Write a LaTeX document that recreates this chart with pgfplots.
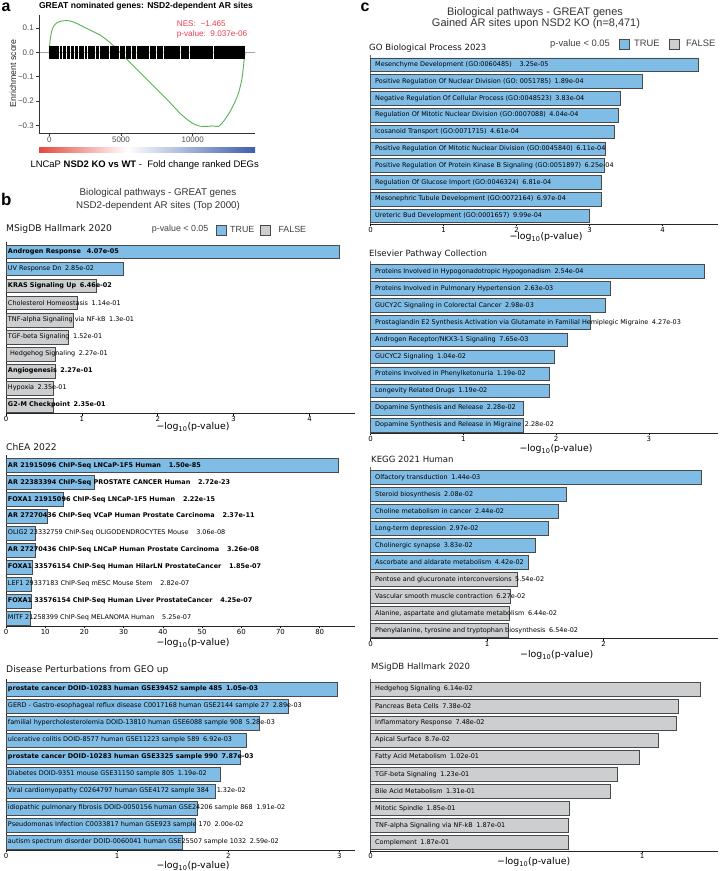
\documentclass[border=0pt]{standalone}
\usepackage{fontspec}
\setmainfont{Liberation Sans}
\newfontfamily\dv{DejaVu Sans}
\usepackage{pgfplots}
\pgfplotsset{compat=1.18}
\definecolor{tb}{HTML}{7FBDE6}
\definecolor{fg}{HTML}{CDCECF}
\definecolor{eg}{HTML}{4A4A4A}
\definecolor{cgreen}{HTML}{55B54F}
\definecolor{nesred}{HTML}{EE3F52}
\definecolor{cbred}{HTML}{E5493E}
\definecolor{cbblue}{HTML}{3D5DAE}
\definecolor{tgray}{HTML}{4D4D4D}
\newcommand{\fs}[1]{\fontsize{#1}{#1}\selectfont}
\newcommand{\g}{\hspace{0.55em}}
\newcommand{\G}{\hspace{1.2em}}
\pgfdeclarehorizontalshading{rwb}{100bp}{color(0bp)=(cbred); color(25bp)=(cbred); color(45.5bp)=(white); color(75bp)=(cbblue); color(100bp)=(cbblue)}
\pgfplotsset{
  barax/.style={
    scale only axis, xbar, y dir=reverse, bar shift=0pt, bar width=0.8,
    axis x line*=bottom, axis y line*=left, ytick=\empty,
    xmin=0, ymin=-0.6, ymax=9.5, anchor=north west,
    axis line style={line width=0.8bp, black!85, -},
    /pgf/number format/assume math mode=true,
    x tick label style={font=\dv\fs{7}, inner sep=0.8bp},
    tick align=outside, major tick length=1.8bp,
    xtick style={black, line width=0.6bp},
    clip=false,
  },
  tbar/.style={fill=tb, draw=eg, line width=0.6bp},
  fbar/.style={fill=fg, draw=eg, line width=0.6bp},
}
\tikzset{
  bl/.style={anchor=west, inner sep=0pt, xshift=1.8bp, font=\dv\fs{6.5}},
  cl/.style={anchor=west, inner sep=0pt, xshift=4.5bp, font=\dv\fs{6.5}},
  sect/.style={anchor=west, inner sep=0pt, font=\dv\fs{9.2}, text=black!90},
  sectc/.style={anchor=west, inner sep=0pt, font=\dv\fs{8.6}, text=black!90},
  xl/.style={inner sep=0pt, font=\dv\fs{9.4}},
  lg/.style={anchor=west, inner sep=0pt, text=black!75},
  ayl/.style={anchor=east, inner sep=0pt, xshift=-5bp, font=\fs{8}, text=tgray},
  axl/.style={anchor=north, inner sep=0pt, yshift=-4.2bp, font=\fs{8}, text=tgray},
  atk/.style={black!80, line width=0.5bp},
}
\begin{document}
\begin{tikzpicture}
\path[use as bounding box] (0,0) rectangle (720bp,-871bp);
\fill[white] (0,0) rectangle (720bp,-871bp);

% ---------------- panel a ----------------
\node[anchor=base west, inner sep=0, font=\bfseries\fs{16}] at (1.5bp,-11.5bp) {a};
\node[inner sep=0, font=\bfseries\fs{8.6}] at (146bp,-6.7bp) {GREAT nominated genes: NSD2-dependent AR sites};
\begin{axis}[scale only axis, at={(39bp,-15bp)}, anchor=north west, width=216bp, height=118bp,
  xmin=-718, xmax=14344, ymin=-0.331, ymax=0.153,
  hide axis, clip=false]
\addplot[gray!70, line width=0.5bp] coordinates {(-718,0) (14344,0)};
\addplot[only marks, mark=|, mark size=6.7bp, mark options={line width=0.55bp, black}] coordinates {
(0,0)(60,0)(140,0)(190,0)(260,0)(380,0)(430,0)(520,0)(560,0)(650,0)(760,0)(820,0)(870,0)(990,0)(1050,0)(1110,0)(1240,0)(1290,0)(1350,0)(1420,0)(1530,0)(1600,0)(1650,0)(1780,0)(1840,0)(1900,0)(1960,0)(2080,0)(2140,0)(2230,0)(2290,0)(2350,0)(2480,0)(2540,0)(2600,0)(2700,0)(2760,0)(2830,0)(2950,0)(3010,0)(3080,0)(3130,0)(3260,0)(3320,0)(3380,0)(3440,0)(3560,0)(3620,0)(3690,0)(3750,0)(3860,0)(3920,0)(3990,0)(4060,0)(4120,0)(4240,0)(4300,0)(4370,0)(4430,0)(4550,0)(4610,0)(4680,0)(4740,0)(4810,0)(4930,0)(4990,0)
(5060,0)(5130,0)(5190,0)(5260,0)(5380,0)(5440,0)(5500,0)(5570,0)(5640,0)(5760,0)(5820,0)(5880,0)(5950,0)(6010,0)(6130,0)(6190,0)(6260,0)(6320,0)(6390,0)(6450,0)(6570,0)(6630,0)(6700,0)(6760,0)(6830,0)(6890,0)(7010,0)(7070,0)(7140,0)(7200,0)(7270,0)(7330,0)(7400,0)(7520,0)(7580,0)(7650,0)(7710,0)(7780,0)(7840,0)(7910,0)(8030,0)(8090,0)(8160,0)(8220,0)(8290,0)(8350,0)(8420,0)(8480,0)(8600,0)(8660,0)(8730,0)(8790,0)(8860,0)(8920,0)(8990,0)(9050,0)(9170,0)(9230,0)(9300,0)(9360,0)(9430,0)(9490,0)(9560,0)(9620,0)(9690,0)(9810,0)(9870,0)(9940,0)
(10000,0)(10060,0)(10130,0)(10190,0)(10250,0)(10320,0)(10380,0)(10440,0)(10510,0)(10570,0)(10690,0)(10750,0)(10810,0)(10870,0)(10940,0)(11000,0)(11060,0)(11120,0)(11190,0)(11250,0)(11310,0)(11370,0)(11490,0)(11550,0)(11610,0)(11680,0)(11740,0)(11800,0)(11860,0)(11930,0)(11990,0)(12050,0)(12110,0)(12180,0)(12240,0)(12300,0)(12360,0)(12430,0)(12490,0)(12550,0)(12610,0)(12680,0)(12740,0)(12800,0)(12860,0)(12930,0)(12990,0)(13050,0)(13110,0)(13180,0)(13240,0)(13300,0)(13360,0)(13430,0)(13490,0)(13550,0)(13600,0)};
\addplot[cgreen, line width=0.9bp, smooth, tension=0.4] coordinates {
(0,0.0)(47,0.044)(163,0.085)(279,0.105)(512,0.121)(861,0.128)(1209,0.130)(1558,0.127)(2140,0.112)(2838,0.091)(3535,0.071)(4233,0.040)(4930,-0.001)(5861,-0.056)(7024,-0.124)(8187,-0.192)(9117,-0.250)(9583,-0.274)(10048,-0.293)(10514,-0.303)(10979,-0.304)(11444,-0.302)(11793,-0.304)(12142,-0.284)(12607,-0.243)(12956,-0.202)(13189,-0.168)(13421,-0.113)(13537,-0.059)(13607,-0.018)(13653,0.0)};
% axis lines, ticks and tick labels
\draw[atk] (rel axis cs:0,1) -- (rel axis cs:0,0) -- (rel axis cs:1,0);
\draw[atk] (axis cs:-718,0.1) -- ([xshift=-2.5bp]axis cs:-718,0.1);
\draw[atk] (axis cs:-718,0) -- ([xshift=-2.5bp]axis cs:-718,0);
\draw[atk] (axis cs:-718,-0.1) -- ([xshift=-2.5bp]axis cs:-718,-0.1);
\draw[atk] (axis cs:-718,-0.2) -- ([xshift=-2.5bp]axis cs:-718,-0.2);
\draw[atk] (axis cs:-718,-0.3) -- ([xshift=-2.5bp]axis cs:-718,-0.3);
\node[ayl] at (axis cs:-718,0.1) {0.1};
\node[ayl] at (axis cs:-718,0) {0.0};
\node[ayl] at (axis cs:-718,-0.1) {−0.1};
\node[ayl] at (axis cs:-718,-0.2) {−0.2};
\node[ayl] at (axis cs:-718,-0.3) {−0.3};
\draw[atk] (axis cs:0,-0.331) -- ([yshift=-2.5bp]axis cs:0,-0.331);
\draw[atk] (axis cs:5000,-0.331) -- ([yshift=-2.5bp]axis cs:5000,-0.331);
\draw[atk] (axis cs:10000,-0.331) -- ([yshift=-2.5bp]axis cs:10000,-0.331);
\node[axl] at (axis cs:0,-0.331) {0};
\node[axl] at (axis cs:5000,-0.331) {5000};
\node[axl] at (axis cs:10000,-0.331) {10000};
\end{axis}
\node[anchor=west, inner sep=0, text=nesred, font=\fs{8.2}] at (176.7bp,-24bp) {NES:\ \ −1.465};
\node[anchor=west, inner sep=0, text=nesred, font=\fs{8.2}] at (176.7bp,-34bp) {p-value:\ \ 9.037e-06};
\node[rotate=90, inner sep=0, font=\fs{8.8}, text=black!85] at (13bp,-73.3bp) {Enrichment score};
\shade[shading=rwb] (39bp,-147bp) rectangle (255bp,-152.5bp);
\node[inner sep=0, font=\fs{9.5}] at (144.7bp,-164.7bp) {LNCaP \textbf{NSD2 KO vs WT} -\ \ Fold change ranked DEGs};

% ---------------- panel b ----------------
\node[anchor=base west, inner sep=0, font=\bfseries\fs{17}] at (1bp,-205bp) {b};
\node[inner sep=0, font=\fs{9.8}, text=black!80] at (158bp,-193.3bp) {Biological pathways - GREAT genes};
\node[inner sep=0, font=\fs{9.8}, text=black!80] at (158bp,-205.7bp) {NSD2-dependent AR sites (Top 2000)};
\node[sect] at (6bp,-229.3bp) {MSigDB Hallmark 2020};
\node[lg, font=\fs{8.9}] at (151.7bp,-229.3bp) {p-value < 0.05};
\filldraw[fill=tb, draw=eg, line width=0.6bp] (216bp,-225bp) rectangle (226bp,-235.5bp);
\node[lg, font=\fs{8.9}] at (230bp,-229.3bp) {TRUE};
\filldraw[fill=fg, draw=eg, line width=0.6bp] (260.7bp,-225bp) rectangle (270.7bp,-235.5bp);
\node[lg, font=\fs{8.9}] at (278.3bp,-229.3bp) {FALSE};

\begin{axis}[barax, at={(6bp,-241.6bp)}, width=349bp, height=172.1bp, xmax=4.6, xtick={0,1,2,3,4}]
\addplot[tbar] coordinates {(4.390,0) (1.545,1)};
\addplot[fbar] coordinates {(1.190,2) (0.943,3) (0.886,4) (0.818,5) (0.644,6) (0.644,7) (0.629,8) (0.629,9)};
\node[bl] at (axis cs:0,0) {\bfseries Androgen Response\hspace{0.9em}4.07e-05};
\node[bl] at (axis cs:0,1) {UV Response Dn\g 2.85e-02};
\node[bl] at (axis cs:0,2) {\bfseries KRAS Signaling Up\g 6.46e-02};
\node[bl] at (axis cs:0,3) {Cholesterol Homeostasis\g 1.14e-01};
\node[bl] at (axis cs:0,4) {TNF-alpha Signaling via NF-kB\g 1.3e-01};
\node[bl] at (axis cs:0,5) {TGF-beta Signaling\g 1.52e-01};
\node[bl] at (axis cs:0,6) {\ Hedgehog Signaling\g 2.27e-01};
\node[bl] at (axis cs:0,7) {\bfseries Angiogenesis\g 2.27e-01};
\node[bl] at (axis cs:0,8) {Hypoxia\g 2.35e-01};
\node[bl] at (axis cs:0,9) {\bfseries G2-M Checkpoint\g 2.35e-01};
\end{axis}
\node[xl] at (193bp,-427bp) {−log\textsubscript{10}(p-value)};

\node[sect] at (6bp,-446.7bp) {ChEA 2022};
\begin{axis}[barax, at={(6bp,-455.1bp)}, width=349bp, height=171.4bp, xmax=89, xtick={0,10,...,80}]
\addplot[tbar] coordinates {(84.824,0) (22.565,1) (14.654,2) (10.625,3) (7.514,4) (7.487,5) (6.733,6) (6.550,7) (6.372,8) (6.280,9)};
\node[bl] at (axis cs:0,0) {\bfseries AR 21915096 ChIP-Seq LNCaP-1F5 Human\G 1.50e-85};
\node[bl] at (axis cs:0,1) {\bfseries AR 22383394 ChIP-Seq PROSTATE CANCER Human\G 2.72e-23};
\node[bl] at (axis cs:0,2) {\bfseries FOXA1 21915096 ChIP-Seq LNCaP-1F5 Human\G 2.22e-15};
\node[bl] at (axis cs:0,3) {\bfseries AR 27270436 ChIP-Seq VCaP Human Prostate Carcinoma\G 2.37e-11};
\node[bl] at (axis cs:0,4) {OLIG2 23332759 ChIP-Seq OLIGODENDROCYTES Mouse\G 3.06e-08};
\node[bl] at (axis cs:0,5) {\bfseries AR 27270436 ChIP-Seq LNCaP Human Prostate Carcinoma\G 3.26e-08};
\node[bl] at (axis cs:0,6) {\bfseries FOXA1 33576154 ChIP-Seq Human HilarLN ProstateCancer\G 1.85e-07};
\node[bl] at (axis cs:0,7) {LEF1 29337183 ChIP-Seq mESC Mouse Stem\G 2.82e-07};
\node[bl] at (axis cs:0,8) {\bfseries FOXA1 33576154 ChIP-Seq Human Liver ProstateCancer\G 4.25e-07};
\node[bl] at (axis cs:0,9) {MITF 21258399 ChIP-Seq MELANOMA Human\G 5.25e-07};
\end{axis}
\node[xl] at (193bp,-642.7bp) {−log\textsubscript{10}(p-value)};

\node[sect] at (6bp,-670bp) {Disease Perturbations from GEO up};
\begin{axis}[barax, at={(6bp,-678.8bp)}, width=349bp, height=171.7bp, xmax=3.14, xtick={0,1,2,3}]
\addplot[tbar] coordinates {(2.979,0) (2.539,1) (2.277,2) (2.160,3) (2.104,4) (1.924,5) (1.879,6) (1.719,7) (1.699,8) (1.587,9)};
\node[bl] at (axis cs:0,0) {\bfseries prostate cancer DOID-10283 human GSE39452 sample 485\g 1.05e-03};
\node[bl] at (axis cs:0,1) {GERD - Gastro-esophageal reflux disease C0017168 human GSE2144 sample 27\g 2.89e-03};
\node[bl] at (axis cs:0,2) {familial hypercholesterolemia DOID-13810 human GSE6088 sample 908\g 5.28e-03};
\node[bl] at (axis cs:0,3) {ulcerative colitis DOID-8577 human GSE11223 sample 589\g 6.92e-03};
\node[bl] at (axis cs:0,4) {\bfseries prostate cancer DOID-10283 human GSE3325 sample 990\g 7.87e-03};
\node[bl] at (axis cs:0,5) {Diabetes DOID-9351 mouse GSE31150 sample 805\g 1.19e-02};
\node[bl] at (axis cs:0,6) {Viral cardiomyopathy C0264797 human GSE4172 sample 384\G 1.32e-02};
\node[bl] at (axis cs:0,7) {idiopathic pulmonary fibrosis DOID-0050156 human GSE24206 sample 868\g 1.91e-02};
\node[bl] at (axis cs:0,8) {Pseudomonas Infection C0033817 human GSE923 sample 170\g 2.00e-02};
\node[bl] at (axis cs:0,9) {autism spectrum disorder DOID-0060041 human GSE25507 sample 1032\g 2.59e-02};
\end{axis}
\node[xl] at (193bp,-865.7bp) {−log\textsubscript{10}(p-value)};

% ---------------- panel c ----------------
\node[anchor=base west, inner sep=0, font=\bfseries\fs{16}] at (360.5bp,-11bp) {c};
\node[inner sep=0, font=\fs{11}, text=black!80] at (535bp,-12.7bp) {Biological pathways - GREAT genes};
\node[inner sep=0, font=\fs{11}, text=black!80] at (536bp,-23.6bp) {Gained AR sites upon NSD2 KO (n=8,471)};
\node[sectc] at (369bp,-48.3bp) {GO Biological Process 2023};
\node[lg, font=\fs{9.4}] at (550bp,-43.7bp) {p-value < 0.05};
\filldraw[fill=tb, draw=eg, line width=0.6bp] (619.3bp,-39.3bp) rectangle (629.3bp,-49.3bp);
\node[lg, font=\fs{9.4}] at (634bp,-43.7bp) {TRUE};
\filldraw[fill=fg, draw=eg, line width=0.6bp] (669.3bp,-39.3bp) rectangle (679.3bp,-49.3bp);
\node[lg, font=\fs{9.4}] at (686bp,-43.7bp) {FALSE};

\begin{axis}[barax, at={(370.5bp,-54.6bp)}, width=347.5bp, height=169.7bp, xmax=4.76, xtick={0,1,2,3,4},
  y axis line style={line width=1.4bp, black!60}]
\addplot[tbar] coordinates {(4.488,0) (3.724,1) (3.417,2) (3.394,3) (3.336,4) (3.214,5) (3.204,6) (3.167,7) (3.157,8) (3.000,9)};
\node[cl] at (axis cs:0,0) {Mesenchyme Development (GO:0060485)\G 3.25e-05};
\node[cl] at (axis cs:0,1) {Positive Regulation Of Nuclear Division (GO: 0051785)\g 1.89e-04};
\node[cl] at (axis cs:0,2) {Negative Regulation Of Cellular Process (GO:0048523)\g 3.83e-04};
\node[cl] at (axis cs:0,3) {Regulation Of Mitotic Nuclear Division (GO:0007088)\g 4.04e-04};
\node[cl] at (axis cs:0,4) {Icosanoid Transport (GO:0071715)\g 4.61e-04};
\node[cl] at (axis cs:0,5) {Positive Regulation Of Mitotic Nuclear Division (GO:0045840)\g 6.11e-04};
\node[cl] at (axis cs:0,6) {Positive Regulation Of Protein Kinase B Signaling (GO:0051897)\g 6.25e-04};
\node[cl] at (axis cs:0,7) {Regulation Of Glucose Import (GO:0046324)\g 6.81e-04};
\node[cl] at (axis cs:0,8) {Mesonephric Tubule Development (GO:0072164)\g 6.97e-04};
\node[cl] at (axis cs:0,9) {Ureteric Bud Development (GO:0001657)\g 9.99e-04};
\end{axis}
\node[xl] at (546bp,-237.3bp) {−log\textsubscript{10}(p-value)};

\node[sectc] at (369bp,-254bp) {Elsevier Pathway Collection};
\begin{axis}[barax, at={(370.5bp,-261.1bp)}, width=347.5bp, height=172.5bp, xmax=3.745, xtick={0,1,2,3},
  y axis line style={line width=1.4bp, black!60}]
\addplot[tbar] coordinates {(3.595,0) (2.580,1) (2.526,2) (2.370,3) (2.116,4) (1.983,5) (1.924,6) (1.924,7) (1.642,8) (1.642,9)};
\node[cl] at (axis cs:0,0) {Proteins Involved in Hypogonadotropic Hypogonadism\g 2.54e-04};
\node[cl] at (axis cs:0,1) {Proteins Involved in Pulmonary Hypertension\g 2.63e-03};
\node[cl] at (axis cs:0,2) {GUCY2C Signaling in Colorectal Cancer\g 2.98e-03};
\node[cl] at (axis cs:0,3) {Prostaglandin E2 Synthesis Activation via Glutamate in Familial Hemiplegic Migraine\g 4.27e-03};
\node[cl] at (axis cs:0,4) {Androgen Receptor/NKX3-1 Signaling\g 7.65e-03};
\node[cl] at (axis cs:0,5) {GUCYC2 Signaling\g 1.04e-02};
\node[cl] at (axis cs:0,6) {Proteins Involved in Phenylketonuria\g 1.19e-02};
\node[cl] at (axis cs:0,7) {Longevity Related Drugs\g 1.19e-02};
\node[cl] at (axis cs:0,8) {Dopamine Synthesis and Release\g 2.28e-02};
\node[cl] at (axis cs:0,9) {Dopamine Synthesis and Release in Migraine\g 2.28e-02};
\end{axis}
\node[xl] at (556bp,-449.3bp) {−log\textsubscript{10}(p-value)};

\node[sectc] at (371bp,-459.3bp) {KEGG 2021 Human};
\begin{axis}[barax, at={(370.5bp,-467.3bp)}, width=347.5bp, height=171.5bp, xmax=2.983, xtick={0,1,2},
  y axis line style={line width=1.4bp, black!60}]
\addplot[tbar] coordinates {(2.842,0) (1.682,1) (1.613,2) (1.527,3) (1.417,4) (1.355,5)};
\addplot[fbar] coordinates {(1.256,6) (1.203,7) (1.191,8) (1.184,9)};
\node[cl] at (axis cs:0,0) {Olfactory transduction\g 1.44e-03};
\node[cl] at (axis cs:0,1) {Steroid biosynthesis\g 2.08e-02};
\node[cl] at (axis cs:0,2) {Choline metabolism in cancer\g 2.44e-02};
\node[cl] at (axis cs:0,3) {Long-term depression\g 2.97e-02};
\node[cl] at (axis cs:0,4) {Cholinergic synapse\g 3.83e-02};
\node[cl] at (axis cs:0,5) {Ascorbate and aldarate metabolism\g 4.42e-02};
\node[cl] at (axis cs:0,6) {Pentose and glucuronate interconversions\g 5.54e-02};
\node[cl] at (axis cs:0,7) {Vascular smooth muscle contraction\g 6.27e-02};
\node[cl] at (axis cs:0,8) {Alanine, aspartate and glutamate metabolism\g 6.44e-02};
\node[cl] at (axis cs:0,9) {Phenylalanine, tyrosine and tryptophan biosynthesis\g 6.54e-02};
\end{axis}
\node[xl] at (556.7bp,-655bp) {−log\textsubscript{10}(p-value)};

\node[sectc] at (371bp,-666.7bp) {MSigDB Hallmark 2020};
\begin{axis}[barax, at={(370.5bp,-678.8bp)}, width=347.5bp, height=172.1bp, xmax=1.279, xtick={0,1},
  y axis line style={line width=1.4bp, black!60}]
\addplot[fbar] coordinates {(1.212,0) (1.132,1) (1.126,2) (1.060,3) (0.991,4) (0.910,5) (0.883,6) (0.733,7) (0.728,8) (0.728,9)};
\node[cl] at (axis cs:0,0) {Hedgehog Signaling\g 6.14e-02};
\node[cl] at (axis cs:0,1) {Pancreas Beta Cells\g 7.38e-02};
\node[cl] at (axis cs:0,2) {Inflammatory Response\g 7.48e-02};
\node[cl] at (axis cs:0,3) {Apical Surface\g 8.7e-02};
\node[cl] at (axis cs:0,4) {Fatty Acid Metabolism\g 1.02e-01};
\node[cl] at (axis cs:0,5) {TGF-beta Signaling\g 1.23e-01};
\node[cl] at (axis cs:0,6) {Bile Acid Metabolism\g 1.31e-01};
\node[cl] at (axis cs:0,7) {Mitotic Spindle\g 1.85e-01};
\node[cl] at (axis cs:0,8) {TNF-alpha Signaling via NF-kB\g 1.87e-01};
\node[cl] at (axis cs:0,9) {Complement\g 1.87e-01};
\end{axis}
\node[xl] at (533.7bp,-861.7bp) {−log\textsubscript{10}(p-value)};
\end{tikzpicture}
\end{document}
